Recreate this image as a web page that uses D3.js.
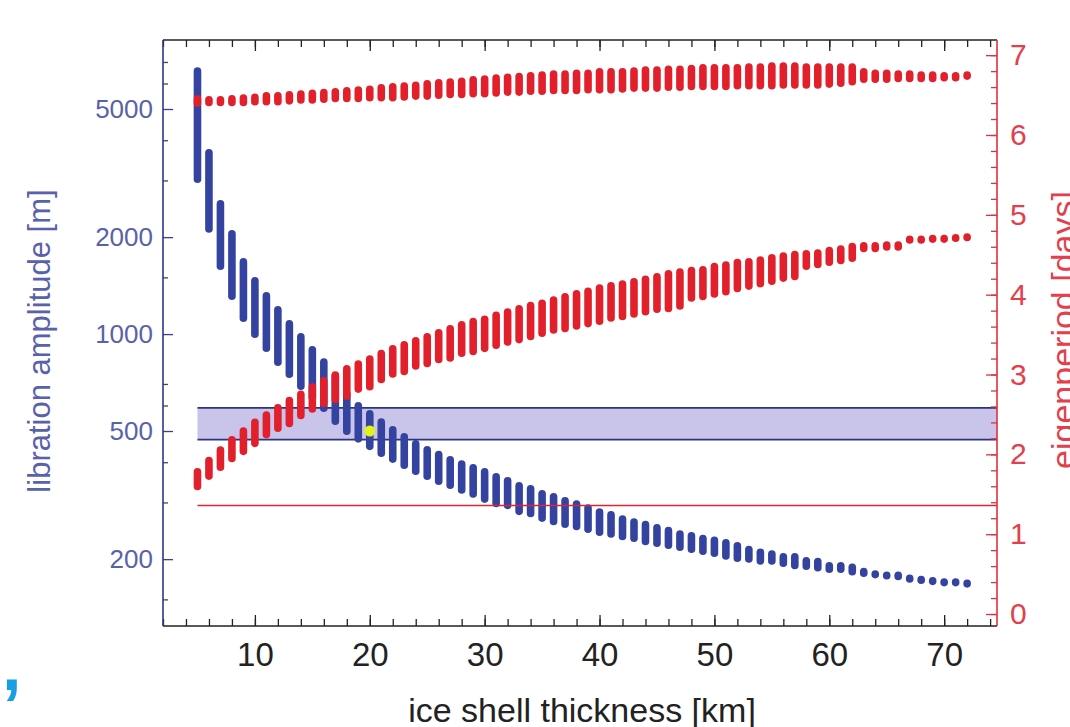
<!DOCTYPE html>
<html>
<head>
<meta charset="utf-8">
<script src="https://cdn.jsdelivr.net/npm/d3@7"></script>
<style>
body { margin: 0; background: #fff; }
svg { display: block; font-family: "Liberation Sans", Arial, sans-serif; }
</style>
</head>
<body>
<div id="chart"></div>
<script>
// ice shell thickness [km], one column of model runs per km
var thickness = [5,6,7,8,9,10,11,12,13,14,15,16,17,18,19,20,21,22,23,24,25,26,27,28,29,30,31,32,33,34,35,36,37,38,
  39,40,41,42,43,44,45,46,47,48,49,50,51,52,53,54,55,56,57,58,59,60,61,62,63,64,65,66,67,68,69,70,71,72];

// libration amplitude [m], spread of each column
var ampMax = [6745,3754,2607,2103,1722,1503,1350,1222,1105,1007,918,842,762,670,615,581,548,518,493,469,449,434,418,406,
  395,384,370,360,347,340,328,321,312,305,296,288,282,274,268,263,257,252,246,243,238,235,231,226,220,216,213,209,209,203,
  202,196,196,194,188,184,183,183,178,176,173,172,172,171];
var ampMin = [2944,2064,1580,1275,1090,972,879,796,730,670,619,573,522,486,460,436,415,398,381,365,352,340,330,319,
  310,299,290,286,274,270,261,255,250,246,241,236,233,229,226,221,218,215,212,209,206,203,199,196,195,192,192,189,186,185,
  183,181,181,178,176,175,173,172,170,169,169,167,167,165];

// eigenperiod [days], upper branch
var periodHiMax = [6.50,6.49,6.49,6.50,6.51,6.52,6.54,6.54,6.55,6.56,6.57,6.58,6.59,6.60,6.61,6.62,6.64,6.65,6.66,6.67,
  6.69,6.70,6.71,6.72,6.74,6.75,6.76,6.77,6.78,6.79,6.80,6.81,6.81,6.82,6.82,6.84,6.84,6.84,6.85,6.86,6.86,6.87,6.87,6.88,
  6.89,6.89,6.89,6.89,6.90,6.90,6.91,6.91,6.91,6.90,6.90,6.90,6.90,6.90,6.84,6.82,6.82,6.81,6.81,6.80,6.80,6.79,6.79,6.80];
var periodHiMin = [6.35,6.36,6.36,6.36,6.36,6.37,6.37,6.37,6.38,6.39,6.39,6.40,6.41,6.41,6.41,6.42,6.42,6.42,6.43,6.44,
  6.44,6.45,6.46,6.46,6.47,6.47,6.48,6.49,6.49,6.50,6.50,6.51,6.51,6.51,6.52,6.52,6.52,6.53,6.54,6.54,6.54,6.55,6.55,6.56,
  6.56,6.56,6.56,6.57,6.57,6.57,6.57,6.58,6.58,6.58,6.58,6.59,6.60,6.62,6.65,6.65,6.65,6.66,6.66,6.66,6.66,6.67,6.67,6.69];

// eigenperiod [days], lower branch
var periodLoMax = [1.83,1.97,2.10,2.23,2.34,2.45,2.54,2.63,2.72,2.80,2.89,2.97,3.04,3.12,3.18,3.24,3.31,3.37,3.42,3.47,
  3.52,3.57,3.62,3.67,3.71,3.74,3.79,3.83,3.87,3.91,3.94,3.98,4.02,4.06,4.09,4.13,4.16,4.18,4.21,4.24,4.27,4.31,4.33,4.35,
  4.36,4.40,4.42,4.45,4.46,4.48,4.51,4.53,4.55,4.56,4.57,4.60,4.62,4.65,4.66,4.66,4.67,4.67,4.72,4.72,4.73,4.73,4.75,4.77];
var periodLoMin = [1.55,1.68,1.79,1.90,1.99,2.09,2.20,2.28,2.34,2.44,2.52,2.59,2.64,2.68,2.77,2.80,2.89,2.96,2.99,3.06,
  3.09,3.14,3.16,3.22,3.24,3.28,3.32,3.36,3.39,3.43,3.47,3.51,3.53,3.56,3.59,3.62,3.66,3.68,3.71,3.74,3.77,3.78,3.81,3.91,
  3.93,3.96,3.99,4.03,4.06,4.09,4.12,4.16,4.18,4.31,4.33,4.36,4.38,4.41,4.53,4.53,4.55,4.55,4.66,4.66,4.67,4.67,4.67,4.67];

// observed amplitude band [m], period limit [days], highlighted solution
var bandAmp = [470, 590];
var bandStart = 5;
var periodLimit = 1.36;
var bestFit = [20, 500];

// tick labels
var xTicks = [10,20,30,40,50,60,70];
var ampTicks = [200,500,1000,2000,5000];
var ampMinorTicks = [150,300,400,600,700,1500,3000,4000,6000,7000];
var periodTicks = [0,1,2,3,4,5,6,7];

var width = 1070, height = 727;
var plotLeft = 163, plotRight = 997, plotTop = 40, plotBottom = 626;

var blue = "#3443a0", red = "#e2202b";

var svg = d3.select('#chart')
  .append("svg")
  .attr("width", width)
  .attr("height", height);

var x = d3.scaleLinear().domain([2, 74.6]).range([plotLeft, plotRight]);
var yAmp = d3.scaleLog().domain([124, 8190]).range([plotBottom, plotTop]);
var yDays = d3.scaleLinear().domain([-0.15, 7.19]).range([plotBottom, plotTop]);

//band of measured amplitudes
svg.append("rect")
  .attr("x", x(bandStart))
  .attr("y", yAmp(bandAmp[1]))
  .attr("width", plotRight - x(bandStart))
  .attr("height", yAmp(bandAmp[0]) - yAmp(bandAmp[1]))
  .style("fill", "#c8c4ea");
svg.selectAll(".bandEdge")
  .data(bandAmp)
  .enter().append("line")
  .attr("class", "bandEdge")
  .attr("x1", x(bandStart)).attr("x2", plotRight)
  .attr("y1", function(d) { return yAmp(d); })
  .attr("y2", function(d) { return yAmp(d); })
  .style("stroke", "#2d3380").style("stroke-width", 1.6);

//columns of points drawn as round capped strokes
var r = 3.8;
function columns(cls, hi, lo, yScale, colour) {
  var rows = thickness.map(function(t, i) { return {t: t, hi: hi[i], lo: lo[i]}; });
  svg.append("g").attr("class", cls)
    .selectAll("line")
    .data(rows)
    .enter().append("line")
    .attr("x1", function(d) { return x(d.t); })
    .attr("x2", function(d) { return x(d.t); })
    .attr("y1", function(d) {
      var a = yScale(d.hi) + r, b = yScale(d.lo) - r;
      return a < b ? a : (a + b) / 2 - 0.3;
    })
    .attr("y2", function(d) {
      var a = yScale(d.hi) + r, b = yScale(d.lo) - r;
      return a < b ? b : (a + b) / 2 + 0.3;
    })
    .style("stroke", colour)
    .style("stroke-width", r * 2)
    .style("stroke-linecap", "round");
}
columns("amp", ampMax, ampMin, yAmp, blue);
columns("periodLo", periodLoMax, periodLoMin, yDays, red);
columns("periodHi", periodHiMax, periodHiMin, yDays, red);

//period limit
svg.append("line")
  .attr("x1", x(bandStart)).attr("x2", plotRight)
  .attr("y1", yDays(periodLimit)).attr("y2", yDays(periodLimit))
  .style("stroke", "#d82634").style("stroke-width", 1.6);

svg.append("circle")
  .attr("cx", x(bestFit[0]))
  .attr("cy", yAmp(bestFit[1]))
  .attr("r", 5.5)
  .style("fill", "#e4f21c");

//axes
function styleAxis(g, colour, size) {
  g.select(".domain").remove();
  g.selectAll("line").style("stroke", colour).style("stroke-width", 1.3);
  g.selectAll("text").style("fill", colour).style("font-size", size + "px");
}

var xMinor = d3.range(2, 75, 2);
svg.append("g").attr("transform", "translate(0," + plotBottom + ")")
  .call(d3.axisBottom(x).tickValues(xMinor).tickSize(-7).tickFormat(""))
  .call(styleAxis, "#222", 0);
svg.append("g").attr("transform", "translate(0," + plotBottom + ")")
  .call(d3.axisBottom(x).tickValues(xTicks).tickSize(-11).tickPadding(17).tickFormat(d3.format("d")))
  .call(styleAxis, "#222", 33);
svg.append("g").attr("transform", "translate(0," + plotTop + ")")
  .call(d3.axisTop(x).tickValues(xMinor).tickSize(-7).tickFormat(""))
  .call(styleAxis, "#222", 0);
svg.append("g").attr("transform", "translate(0," + plotTop + ")")
  .call(d3.axisTop(x).tickValues(xTicks).tickSize(-11).tickFormat(""))
  .call(styleAxis, "#222", 0);

svg.append("g").attr("transform", "translate(" + plotLeft + ",0)")
  .call(d3.axisLeft(yAmp).tickValues(ampMinorTicks).tickSize(-5).tickFormat(""))
  .call(styleAxis, "#3b4090", 0);
svg.append("g").attr("transform", "translate(" + plotLeft + ",0)")
  .call(d3.axisLeft(yAmp).tickValues(ampTicks).tickSize(-10).tickPadding(10).tickFormat(d3.format("d")))
  .call(styleAxis, "#3b4090", 26)
  .selectAll("text").style("fill", "#5862aa");

var dayMinor = d3.range(0, 7.2, 0.2);
svg.append("g").attr("transform", "translate(" + plotRight + ",0)")
  .call(d3.axisRight(yDays).tickValues(dayMinor).tickSize(-6).tickFormat(""))
  .call(styleAxis, "#e0303c", 0);
svg.append("g").attr("transform", "translate(" + plotRight + ",0)")
  .call(d3.axisRight(yDays).tickValues(periodTicks).tickSize(-11).tickPadding(13).tickFormat(d3.format("d")))
  .call(styleAxis, "#e0303c", 30)
  .selectAll("text").style("fill", "#e2404c");

//frame
svg.append("line").attr("x1", plotLeft).attr("x2", plotRight).attr("y1", plotTop).attr("y2", plotTop)
  .style("stroke", "#222").style("stroke-width", 1.6);
svg.append("line").attr("x1", plotLeft).attr("x2", plotRight).attr("y1", plotBottom).attr("y2", plotBottom)
  .style("stroke", "#222").style("stroke-width", 1.6);
svg.append("line").attr("x1", plotLeft).attr("x2", plotLeft).attr("y1", plotTop).attr("y2", plotBottom)
  .style("stroke", "#2f3585").style("stroke-width", 1.6);
svg.append("line").attr("x1", plotRight).attr("x2", plotRight).attr("y1", plotTop).attr("y2", plotBottom)
  .style("stroke", "#e0303c").style("stroke-width", 1.6);

//titles
svg.append("text")
  .attr("x", 582).attr("y", 722)
  .attr("text-anchor", "middle")
  .style("font-size", "34px").style("fill", "#222")
  .text("ice shell thickness [km]");
svg.append("text")
  .attr("transform", "translate(50,341) rotate(-90)")
  .attr("text-anchor", "middle")
  .style("font-size", "31px").style("fill", "#5862aa")
  .text("libration amplitude [m]");
svg.append("text")
  .attr("transform", "translate(1075,330) rotate(-90)")
  .attr("text-anchor", "middle")
  .style("font-size", "34px").style("fill", "#e2404c")
  .text("eigenperiod [days]");

svg.append("text")
  .attr("x", 2).attr("y", 690)
  .style("font-size", "70px").style("font-weight", "bold").style("fill", "#1a9ee2")
  .text(",");
</script>
</body>
</html>
